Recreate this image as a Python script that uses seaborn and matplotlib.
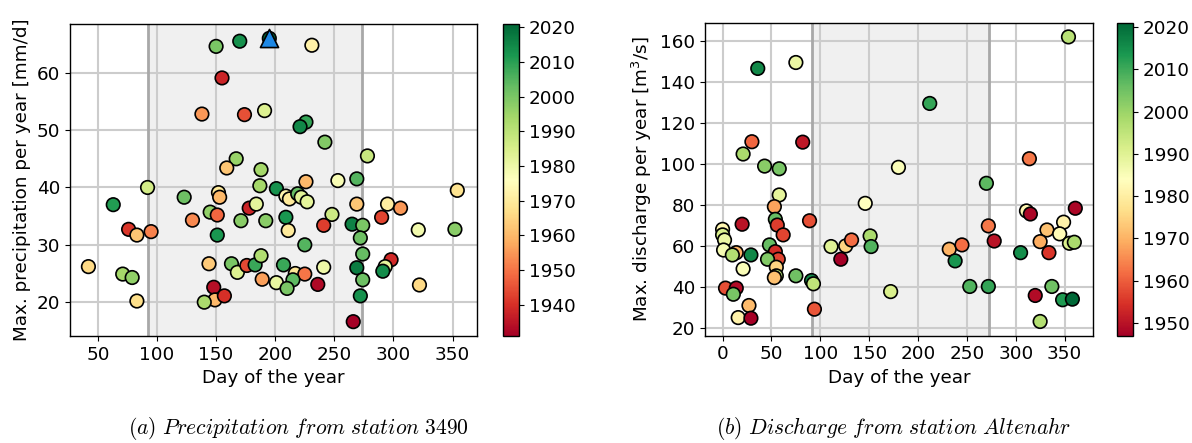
import numpy as np
import pandas as pd
import matplotlib
matplotlib.use("Agg")
import matplotlib.pyplot as plt
import seaborn as sns
from matplotlib.colors import Normalize
from matplotlib.cm import ScalarMappable

# Annual maxima of daily precipitation, station 3490
precip_day = [150, 170, 195, 155, 138, 174, 191, 167, 159, 188, 231, 226, 221, 242, 278,
              92, 63, 76, 83, 95, 42, 71, 79, 83, 123, 130, 145, 151, 151, 152, 153, 171,
              178, 184, 192, 201, 187, 144, 163, 168, 176, 183, 188, 189, 201, 148, 149,
              157, 140, 226, 253, 269, 209, 212, 219, 222, 227, 269, 295, 306, 209, 211,
              248, 241, 265, 274, 272, 290, 321, 352, 354, 225, 274, 298, 293, 291, 207,
              241, 269, 217, 225, 215, 210, 236, 274, 322, 272, 266]
precip_val = [64.6, 65.5, 66.0, 59.1, 52.8, 52.7, 53.4, 45.0, 43.4, 43.1, 64.8, 51.4, 50.6,
              47.9, 45.5, 40.0, 37.0, 32.7, 31.7, 32.3, 26.2, 24.9, 24.3, 20.2, 38.3, 34.3,
              35.7, 35.2, 31.7, 39.1, 38.3, 34.2, 36.4, 37.1, 34.2, 39.8, 40.3, 26.7, 26.7,
              25.2, 26.4, 26.5, 28.1, 24.0, 23.4, 22.6, 20.4, 21.1, 20.0, 41.0, 41.2, 41.5,
              38.5, 38.0, 38.9, 38.3, 37.5, 37.1, 37.1, 36.4, 34.8, 32.5, 35.3, 33.4, 33.6,
              33.4, 31.2, 34.8, 32.6, 32.7, 39.5, 30.0, 28.4, 27.4, 26.2, 25.4, 26.5, 26.1,
              26.0, 25.0, 24.9, 23.9, 22.4, 23.1, 23.9, 23.0, 21.1, 16.6]
precip_year = [2000, 2013, 2021, 1938, 1955, 1945, 1984, 1996, 1962, 1994, 1972, 2009, 2015,
               1999, 1988, 1986, 2011, 1941, 1962, 1952, 1966, 1994, 1997, 1967, 2002, 1953,
               1997, 1948, 2012, 1970, 1960, 1998, 1938, 1982, 1998, 2013, 1994, 1963, 2000,
               1984, 1944, 2008, 1992, 1956, 1981, 1934, 1960, 1940, 1993, 1960, 1978, 2005,
               1973, 1970, 2003, 1983, 1982, 1962, 1971, 1955, 2012, 1970, 1987, 1942, 2016,
               2000, 2002, 1943, 1979, 1998, 1968, 2005, 2003, 1939, 1982, 2014, 2008, 1980,
               2017, 1969, 1950, 2004, 2000, 1933, 2002, 1966, 2013, 1931]

# July 2021 event
event_day = [195]
event_val = [66.0]

# Annual maxima of discharge, gauge Altenahr
flow_day = [36, 75, 30, 21, 82, 43, 58, 180, 354, 212, 314, 270, 58, 53, 54, 56, 62, 20, 89,
            0, 0, 2, 1, 14, 10, 29, 21, 48, 54, 57, 46, 55, 55, 53, 75, 91, 93, 3, 14, 11,
            27, 16, 29, 94, 146, 111, 126, 132, 121, 151, 152, 172, 272, 278, 232, 245, 238,
            253, 272, 311, 315, 361, 349, 332, 345, 325, 334, 305, 355, 360, 320, 337, 348,
            358, 325]
flow_val = [146.7, 149.6, 110.9, 104.9, 110.7, 99.0, 97.7, 98.4, 162.1, 129.6, 102.6, 90.6,
            84.9, 79.2, 73.0, 70.2, 65.4, 70.6, 72.3, 68.1, 65.4, 62.9, 58.0, 56.7, 55.6, 55.6,
            48.8, 60.5, 57.2, 53.5, 53.5, 49.6, 45.4, 44.5, 45.4, 43.1, 41.5, 39.4, 39.4, 36.4,
            30.9, 25.0, 24.7, 29.1, 80.8, 59.7, 60.0, 62.9, 53.5, 64.9, 59.7, 37.7, 69.8, 62.4,
            58.4, 60.5, 52.7, 40.2, 40.2, 77.1, 75.6, 78.4, 71.6, 67.8, 65.9, 62.1, 56.7, 56.7,
            61.3, 61.8, 35.8, 40.2, 33.7, 34.0, 23.1]
flow_year = [2016, 1988, 1961, 1998, 1951, 2002, 2004, 1985, 1996, 2011, 1963, 2007, 1989,
             1968, 2006, 1956, 1957, 1950, 1958, 1982, 1991, 1988, 1986, 1970, 1997, 2016,
             1985, 2006, 1954, 1957, 2003, 1975, 1997, 1972, 2005, 2016, 1995, 1958, 1949,
             2004, 1971, 1981, 1947, 1959, 1984, 1990, 1975, 1962, 1947, 1998, 2008, 1991,
             1963, 1950, 1970, 1962, 2014, 2008, 2011, 1982, 1948, 1948, 1981, 1972, 1983,
             1969, 1955, 2015, 1991, 1998, 1949, 2005, 2013, 2021, 1997]

season_start, season_end = 92, 273

plt.rcParams.update({"font.size": 13.2, "axes.linewidth": 1.0})

fig = plt.figure(figsize=(11.92, 4.43), dpi=100)
ax1 = fig.add_axes([0.0587, 0.2415, 0.3414, 0.7043])
cax1 = fig.add_axes([0.4220, 0.2415, 0.0134, 0.7043])
ax2 = fig.add_axes([0.5914, 0.2422, 0.3255, 0.7066])
cax2 = fig.add_axes([0.9371, 0.2422, 0.0134, 0.7066])

cmap = "RdYlGn"


def panel(ax, cax, days, vals, years, ylabel, yticks, cticks):
    df = pd.DataFrame({"day": days, "val": vals, "year": years})
    norm = Normalize(min(years), max(years))
    ax.axvspan(season_start, season_end, color="#f0f0f0", zorder=0)
    for d in (season_start, season_end):
        ax.axvline(d, color="#a8a8a8", linewidth=2, zorder=1)
    sns.scatterplot(data=df, x="day", y="val", hue="year", palette=cmap,
                    hue_norm=norm, s=95, edgecolor="black", linewidth=1.2,
                    legend=False, ax=ax, zorder=3)
    ax.grid(True, color="#cccccc", linewidth=1.5, zorder=0.5)
    ax.set_axisbelow(True)
    ax.set_xlabel("Day of the year")
    ax.set_ylabel(ylabel)
    ax.set_yticks(yticks)
    sm = ScalarMappable(norm=norm, cmap=cmap)
    cb = fig.colorbar(sm, cax=cax, ticks=cticks)
    cb.outline.set_linewidth(1.0)
    return df


panel(ax1, cax1, precip_day, precip_val, precip_year,
      "Max. precipitation per year [mm/d]", [20, 30, 40, 50, 60],
      list(range(1940, 2021, 10)))
ax1.set_xticks([50, 100, 150, 200, 250, 300, 350])
sns.scatterplot(x=event_day, y=event_val, marker="^", s=170, color="#1e88e5",
                edgecolor="black", linewidth=1.2, legend=False, ax=ax1, zorder=4)
ax1.set_xlim(26.4, 370.6)
ax1.set_ylim(14.1, 68.5)

panel(ax2, cax2, flow_day, flow_val, flow_year,
      "Max. discharge per year [m$^3$/s]", [20, 40, 60, 80, 100, 120, 140, 160],
      list(range(1950, 2021, 10)))
ax2.set_xticks([0, 50, 100, 150, 200, 250, 300, 350])

fig.text(0.2504, 0.033, r"$\mathit{(a)\ Precipitation\ from\ station\ 3490}$",
         ha="center", va="center", fontsize=15.5, math_fontfamily="cm")
fig.text(0.75, 0.033, r"$\mathit{(b)\ Discharge\ from\ station\ Altenahr}$",
         ha="center", va="center", fontsize=15.5, math_fontfamily="cm")

fig.savefig("out.png", dpi=100)
